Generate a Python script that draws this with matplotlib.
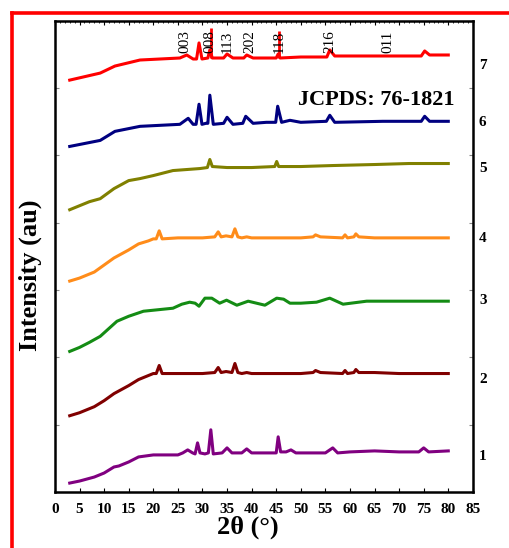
import numpy as np
import matplotlib
matplotlib.use("Agg")
import matplotlib.pyplot as plt
from matplotlib.lines import Line2D

plt.rcParams['font.family'] = ['Liberation Serif', 'DejaVu Serif']

# 2theta / intensity (au), one pair of lists per sample
x1 = [3, 5, 8, 10, 12, 13, 15, 17, 20, 25, 26, 27, 28, 28.5, 29, 29.5, 30.5, 31.2, 31.7, 32.2,
      34, 35, 36, 38, 39, 40, 45, 45.4, 45.9, 47, 48, 49, 55, 56.5, 57.5, 60, 65, 70, 74, 75, 76, 80]
y1 = [9, 11, 15, 19, 25, 26, 30, 35, 37, 37, 39, 42, 39, 38, 49, 39, 38, 39, 62, 38,
      39, 44, 39, 39, 43, 39, 39, 55, 40, 40, 42, 39, 39, 44, 39, 40, 41, 40, 40, 44, 40, 41]

x2 = [3, 5, 8, 10, 12, 15, 17, 19, 20, 20.6, 21.2, 21.8, 25, 30, 32.5, 33.2, 33.8, 34.8, 36, 36.6,
      37.2, 38, 39, 40, 50, 52.5, 53, 54, 58.5, 59, 59.5, 60.8, 61.2, 61.8, 65, 70, 80]
y2 = [76, 79, 85, 91, 98, 106, 112, 116, 118, 118, 126, 118, 118, 118, 119, 124, 119, 120, 119, 128,
      119, 118, 119, 118, 118, 119, 121, 119, 118, 121, 118, 119, 122, 119, 119, 118, 118]

x3 = [3, 5, 7, 9.2, 12.6, 15, 18, 24, 25.8, 27.4, 28.5, 29.3, 30.5, 31.9, 33.5, 34.9, 37, 39.3, 41,
      42.7, 45.1, 46.5, 47.8, 50, 53.2, 55.9, 58.6, 63.4, 73.6, 80]
y3 = [140, 144, 149, 155, 170, 175, 180, 183, 187, 189, 188, 185, 193, 193, 188, 191, 186, 190, 188,
      186, 193, 192, 188, 188, 189, 193, 187, 190, 190, 190]

x4 = [3, 5, 8, 10, 12, 15, 17, 19, 20, 20.6, 21.2, 21.8, 25, 30, 32.5, 33.2, 33.8, 34.8, 36, 36.6,
      37.2, 38, 39, 40, 50, 52.5, 53, 54, 58.5, 59, 59.5, 60.8, 61.2, 61.8, 65, 70, 80]
y4 = [210, 213, 219, 226, 233, 241, 247, 250, 252, 252, 260, 252, 253, 253, 254, 259, 254, 255, 254, 262,
      254, 253, 254, 253, 253, 254, 256, 254, 253, 256, 253, 254, 257, 254, 253, 253, 253]

x5 = [3, 5, 7, 9.2, 12, 15, 17.3, 20, 24, 29.5, 31, 31.5, 32, 35, 40, 44.7, 45.1, 45.5, 50, 56.6,
      65, 72, 80]
y5 = [281, 285, 289, 292, 302, 310, 312, 315, 320, 322, 323, 331, 324, 323, 323, 324, 329, 324, 324, 325,
      326, 327, 327]

x6 = [3, 9.2, 12.2, 17.3, 25.4, 27.1, 28.1, 28.7, 29.3, 29.9, 30.7, 31.1, 31.5, 32.2, 34.3, 35, 36.2,
      38.2, 38.8, 40.3, 43, 44.9, 45.3, 46.1, 47.8, 50, 55.2, 55.9, 56.9, 66.7, 74.5, 75.2, 76.2, 80]
y6 = [344, 350, 359, 364, 366, 372, 366, 366, 386, 366, 367, 367, 395, 366, 367, 373, 366,
      367, 374, 367, 368, 368, 384, 368, 370, 368, 369, 375, 368, 369, 369, 374, 369, 369]

x7 = [3, 9.2, 12.2, 17.3, 25.4, 26.8, 28.1, 28.8, 29.3, 29.9, 31.1, 31.5, 32, 32.8, 34.3, 35, 36.2,
      38.4, 39, 40.3, 42, 45.0, 45.4, 45.8, 50, 55.3, 55.9, 56.9, 65, 74.5, 75.2, 76.2, 80]
y7 = [410, 417, 424, 430, 432, 435, 431, 431, 447, 431, 432, 440, 432, 432, 432, 436, 432,
      432, 435, 432, 432, 432, 436, 432, 433, 433, 440, 434, 434, 434, 439, 435, 435]

# JCPDS reference sticks and (hkl) labels
ref_pos = [31.7, 45.5]
ref_top = [462, 459]
hkl = ['003', '008', '113', '202', '118', '216', '011']
hkl_pos = [26.4, 31.5, 35.0, 39.6, 45.7, 56.0, 67.7]

samples = ['1', '2', '3', '4', '5', '6', '7']
sample_y = [35, 112, 191, 252, 322, 368, 425]
colors = ['#800080', '#800000', '#148c14', '#ff8c1a', '#808000', '#000080', '#ff0000']

fig = plt.figure(figsize=(5.09, 5.48), dpi=100)
ax = fig.add_axes([0.108, 0.102, 0.821, 0.860])

xs = [x1, x2, x3, x4, x5, x6, x7]
ys = [y1, y2, y3, y4, y5, y6, y7]
for x, y, c in zip(xs, ys, colors):
    ax.plot(x, y, color=c, lw=2.2, solid_joinstyle='round')

ax.vlines(ref_pos, 432, ref_top, color='#ff0000', lw=2)

for lab, p in zip(hkl, hkl_pos):
    ax.text(p, 437, lab, rotation=90, ha='center', va='bottom', fontsize=11)

ax.text(81.3, 390, 'JCPDS: 76-1821', ha='right', va='center', fontsize=16, fontweight='bold')

for s, yy in zip(samples, sample_y):
    ax.text(87, yy, s, ha='center', va='center', fontsize=11, fontweight='bold', clip_on=False)

ax.set_xlim(0, 85)
ax.set_ylim(0, 469)
ax.set_xticks(np.arange(0, 86, 5))
ax.set_xticks(np.arange(0, 86, 1), minor=True)
ax.set_yticks(np.arange(0, 470, 67))
ax.set_yticklabels([])
ax.tick_params(axis='x', which='major', direction='in', top=True, length=3, labelsize=11, pad=8)
ax.tick_params(axis='x', which='minor', direction='in', top=True, bottom=False, length=1.5)
ax.tick_params(axis='y', direction='in', right=True, length=3, color='#888888')
for lab in ax.get_xticklabels():
    lab.set_fontweight('bold')
for sp in ax.spines.values():
    sp.set_linewidth(1.8)

fig.text(0.487, 0.038, r'2θ (°)', ha='center', va='center', fontsize=19, fontweight='bold')
fig.text(0.059, 0.497, 'Intensity (au)', rotation=90, ha='center', va='center',
         fontsize=19, fontweight='bold')

# red frame round the panel (left and top edges visible)
fx = 11.5 / 509
fy = 1 - 12.5 / 548
fig.add_artist(Line2D([fx, fx], [0, fy], transform=fig.transFigure, color='#ff0000', lw=2.6))
fig.add_artist(Line2D([fx, 1], [fy, fy], transform=fig.transFigure, color='#ff0000', lw=2.6))

fig.savefig('out.png', dpi=100)
